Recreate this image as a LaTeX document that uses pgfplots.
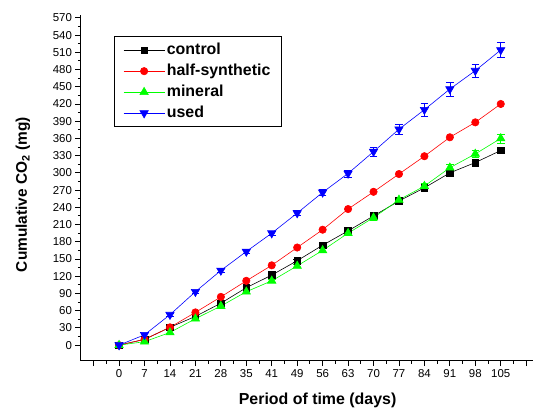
\documentclass[border=0pt]{standalone}
\usepackage{pgfplots}
\pgfplotsset{compat=1.18}
\usepackage{fontspec}
\setmainfont{Liberation Sans}
\begin{document}
\begin{tikzpicture}
\begin{axis}[
    name=ax,
    scale only axis,
    width=453bp, height=346bp,
    axis lines=left,
    axis line style={-, line width=1.1pt},
    xmin=-10.5, xmax=114,
    ymin=-27, ymax=575,
    xtick={-7,0,7,...,112},
    xticklabels={,0,7,14,21,28,35,41,49,56,63,70,77,84,91,98,105,},
    minor x tick num=1,
    ytick={0,30,...,570},
    minor y tick num=1,
    tick align=outside,
    major tick length=5.5bp,
    minor tick length=3bp,
    tick style={black, line width=0.9pt},
    tick label style={font=\fontsize{11.5}{13}\selectfont},
    /pgf/number format/assume math mode=true,
    xlabel={\bfseries Period of time (days)},
    ylabel={\bfseries Cumulative CO$_{\mathbf 2}$ (mg)},
    xlabel style={font=\fontsize{16}{18}\selectfont,
        at={(axis description cs:0.523,-0.116)}, anchor=center},
    ylabel style={font=\fontsize{15.5}{17}\selectfont,
        at={(axis description cs:-0.128,0.48)}, anchor=center},
    legend style={at={(rel axis cs:0.073,0.939)}, anchor=north west,
        draw=black, line width=0.8pt, font=\fontsize{16}{18}\selectfont\bfseries,
        inner xsep=9bp, inner ysep=4.5bp, row sep=2.5bp,
        nodes={inner sep=2bp, text height=11.5bp, text depth=3bp}},
    legend cell align=left,
    legend image code/.code={%
        \draw[mark repeat=2, mark phase=2] plot coordinates {(0bp,0bp) (20.5bp,0bp) (41bp,0bp)};},
    every axis plot/.append style={line width=0.6pt},
    error bars/error bar style={line width=0.6pt},
    error bars/error mark options={rotate=90, mark size=3.8bp, line width=0.6pt},
]
\addplot[black, mark=square*, mark size=3.3bp,
    error bars/.cd, y dir=both, y explicit] coordinates {
(0,0) +- (0,1) (7,10) +- (0,1) (14,31) +- (0,2) (21,50) +- (0,2)
(28,73) +- (0,2) (35,100) +- (0,2) (42,122) +- (0,2) (49,147) +- (0,2)
(56,174) +- (0,2) (63,199) +- (0,2) (70,225) +- (0,2) (77,251) +- (0,2)
(84,274) +- (0,2) (91,300) +- (0,2) (98,318) +- (0,2) (105,339) +- (0,2)
};
\addlegendentry{control}
\addplot[red, mark=*, mark size=3.7bp] coordinates {
(0,0) (7,10) (14,31) (21,57) (28,84) (35,112) (42,139) (49,170)
(56,201) (63,237) (70,267) (77,298) (84,329) (91,362) (98,388) (105,420)
};
\addlegendentry{half-synthetic}
\addplot[green, mark=triangle*, mark size=4.8bp,
    error bars/.cd, y dir=both, y explicit] coordinates {
(0,0) +- (0,2) (7,6) +- (0,2) (14,22) +- (0,3) (21,46) +- (0,3)
(28,68) +- (0,3) (35,93) +- (0,3) (42,112) +- (0,3) (49,138) +- (0,3)
(56,165) +- (0,4) (63,195) +- (0,4) (70,222) +- (0,4) (77,253) +- (0,5)
(84,277) +- (0,5) (91,309) +- (0,6) (98,333) +- (0,6) (105,360) +- (0,8)
};
\addlegendentry{mineral}
\addplot[blue, mark=triangle*, mark size=4.8bp, mark options={rotate=180},
    error bars/.cd, y dir=both, y explicit] coordinates {
(0,0) +- (0,2) (7,18) +- (0,3) (14,53) +- (0,3) (21,93) +- (0,3)
(28,130) +- (0,3) (35,163) +- (0,3) (42,195) +- (0,4) (49,230) +- (0,4)
(56,266) +- (0,5) (63,299) +- (0,6) (70,337) +- (0,8) (77,376) +- (0,9)
(84,410) +- (0,11) (91,446) +- (0,12) (98,478) +- (0,11) (105,514) +- (0,13)
};
\addlegendentry{used}
\end{axis}
\path ([xshift=-81bp,yshift=-53bp]ax.south west) rectangle ([yshift=15bp]ax.north east);
\end{tikzpicture}
\end{document}
